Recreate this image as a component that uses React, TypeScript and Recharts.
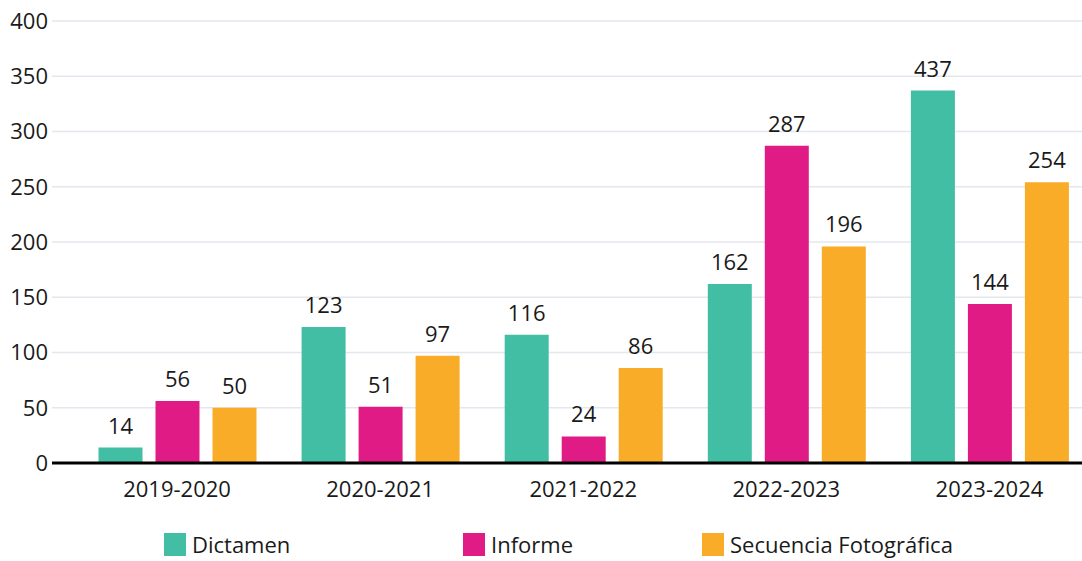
import { Bar, BarChart, CartesianGrid, LabelList, Legend, XAxis, YAxis } from 'recharts';

const periods = ['2019-2020', '2020-2021', '2021-2022', '2022-2023', '2023-2024'];
// bar heights as drawn; the last Dictamen bar is drawn lower than its label says
const dictamen = [14, 123, 116, 162, 337];
const dictamenLabels = ['14', '123', '116', '162', '437'];
const informe = [56, 51, 24, 287, 144];
const secuencia = [50, 97, 86, 196, 254];
const yTicks = [0, 50, 100, 150, 200, 250, 300, 350, 400];

const data = periods.map((period, i) => ({
  period,
  dictamen: dictamen[i],
  dictamenLabel: dictamenLabels[i],
  informe: informe[i],
  secuencia: secuencia[i],
}));

const FONT = '"Open Sans", "Noto Sans", sans-serif';
const TEXT = '#1a1a1a';
const legendLeft = [164, 463, 702];

const LegendContent = ({ payload }: any) => (
  <div style={{ position: 'relative', width: 1082, height: 24 }}>
    {(payload || []).map((p: any, i: number) => (
      <div
        key={p.value}
        style={{ position: 'absolute', left: legendLeft[i], top: 0, display: 'flex', alignItems: 'flex-start' }}
      >
        <span style={{ display: 'inline-block', width: 22, height: 23, background: p.color }} />
        <span style={{ marginLeft: 6, fontSize: 22, lineHeight: '22px', color: TEXT, fontFamily: FONT }}>{p.value}</span>
      </div>
    ))}
  </div>
);

const App = () => (
  <div style={{ position: 'absolute', left: 0, top: 0, width: 1082, height: 561, overflow: 'hidden', background: '#fff' }}>
    <BarChart
      width={1091}
      height={561}
      data={data}
      margin={{ top: 21, right: 0, left: 0, bottom: 34 }}
      barSize={44}
      barGap={13}
      style={{ fontFamily: FONT }}
    >
      <CartesianGrid vertical={false} stroke="#E3E7EE" strokeWidth={1.5} />
      <XAxis
        dataKey="period"
        height={40}
        padding={{ left: 23.5, right: 0 }}
        tickLine={false}
        tickSize={0}
        tickMargin={18}
        axisLine={{ stroke: '#000', strokeWidth: 3 }}
        tick={{ fill: TEXT, fontSize: 22 }}
      />
      <YAxis
        width={52}
        domain={[0, 400]}
        ticks={yTicks}
        axisLine={false}
        tickLine={false}
        tickSize={0}
        tickMargin={4}
        tick={{ fill: TEXT, fontSize: 22 }}
      />
      <Legend verticalAlign="bottom" content={<LegendContent />} wrapperStyle={{ top: 533, left: 0, height: 24 }} />
      <Bar dataKey="dictamen" name="Dictamen" fill="#42BEA5" isAnimationActive={false}>
        <LabelList dataKey="dictamenLabel" position="top" offset={14} fill={TEXT} fontSize={22} />
      </Bar>
      <Bar dataKey="informe" name="Informe" fill="#E11B85" isAnimationActive={false}>
        <LabelList dataKey="informe" position="top" offset={14} fill={TEXT} fontSize={22} />
      </Bar>
      <Bar dataKey="secuencia" name="Secuencia Fotográfica" fill="#F9AC27" isAnimationActive={false}>
        <LabelList dataKey="secuencia" position="top" offset={14} fill={TEXT} fontSize={22} />
      </Bar>
    </BarChart>
  </div>
);

export default App;
